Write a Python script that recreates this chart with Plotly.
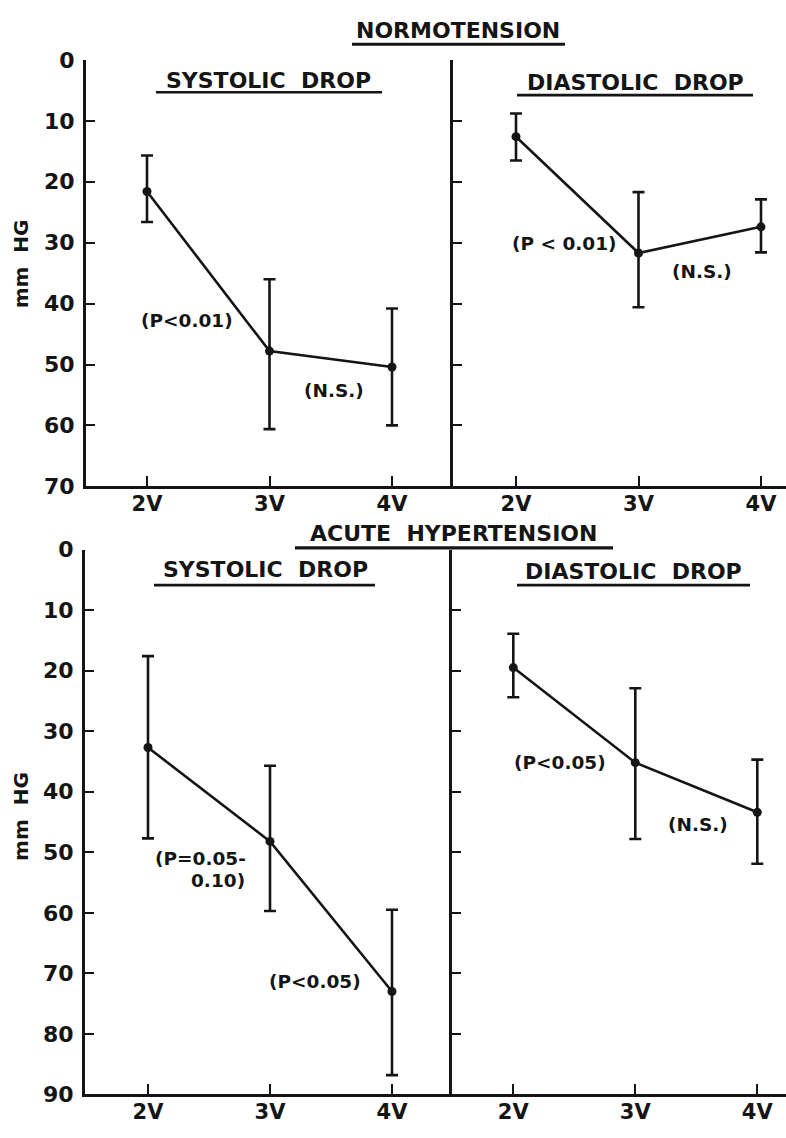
import plotly.graph_objects as go

W, H = 786, 1138

# ---------------- data ----------------
categories = ["2V", "3V", "4V"]
x_pos = [0, 1, 2]
yticks_top = [0, 10, 20, 30, 40, 50, 60, 70]
yticks_bottom = [0, 10, 20, 30, 40, 50, 60, 70, 80, 90]

# Normotension
norm_sys_mean = [21.6, 47.8, 50.4]
norm_sys_top = [15.7, 36.0, 40.8]
norm_sys_bot = [26.6, 60.6, 60.0]
norm_dia_mean = [12.6, 31.7, 27.4]
norm_dia_top = [8.8, 21.7, 22.9]
norm_dia_bot = [16.5, 40.6, 31.6]

# Acute hypertension
acute_sys_mean = [32.7, 48.2, 73.0]
acute_sys_top = [17.6, 35.7, 59.5]
acute_sys_bot = [47.7, 59.7, 86.8]
acute_dia_mean = [19.5, 35.2, 43.4]
acute_dia_top = [13.9, 22.9, 34.7]
acute_dia_bot = [24.4, 47.8, 51.9]

# ---------------- helpers ----------------
def fx(px):
    return px / W

def fy(py):
    return 1 - py / H

INK = "#151515"
FONT = "DejaVu Sans"

fig = go.Figure()

panels = [
    (norm_sys_mean, norm_sys_top, norm_sys_bot, ""),
    (norm_dia_mean, norm_dia_top, norm_dia_bot, "2"),
    (acute_sys_mean, acute_sys_top, acute_sys_bot, "3"),
    (acute_dia_mean, acute_dia_top, acute_dia_bot, "4"),
]

for mean, top, bot, sfx in panels:
    plus = [b - m for m, b in zip(mean, bot)]
    minus = [m - t for m, t in zip(mean, top)]
    fig.add_trace(go.Scatter(
        x=x_pos, y=mean, mode="lines+markers",
        line=dict(color=INK, width=2.6),
        marker=dict(color=INK, size=9),
        error_y=dict(type="data", array=plus, arrayminus=minus, symmetric=False,
                     color=INK, thickness=2.6, width=6),
        xaxis="x" + sfx, yaxis="y" + sfx, showlegend=False,
    ))

# axis pixel geometry: (x_left, x_right, x_of_2V, unit_px, y_top, y_bottom)
geom = {
    "": (86, 453, 147, 122.5, 49, 485),
    "2": (453, 786, 516, 122.5, 49, 485),
    "3": (85, 452, 148, 122.0, 549.6, 1106.8),
    "4": (452, 786, 513.3, 122.0, 549.6, 1106.8),
}

xtickfont = dict(family=FONT, size=21, color=INK, weight="bold")
ytickfont = dict(family=FONT, size=22, color=INK, weight="bold")

for sfx, (xl, xr, x2v, unit, yt, yb) in geom.items():
    is_top = sfx in ("", "2")
    is_left = sfx in ("", "3")
    yvals = yticks_top if is_top else yticks_bottom
    xa = dict(
        domain=[fx(xl), fx(xr)],
        range=[(xl - x2v) / unit, (xr - x2v) / unit],
        tickvals=x_pos, ticktext=categories,
        ticks="inside", ticklen=10, tickwidth=2, tickcolor=INK,
        showline=True, linecolor=INK, linewidth=3,
        showgrid=False, zeroline=False,
        tickfont=xtickfont, ticklabelstandoff=-4,
        anchor="y" + sfx,
    )
    ya = dict(
        domain=[fy(yb), fy(yt)],
        range=[yvals[-1], 0],
        tickvals=yvals,
        ticktext=[str(v) for v in yvals] if is_left else ["" for v in yvals],
        ticks="inside", ticklen=9, tickwidth=2, tickcolor=INK,
        showline=True, linecolor=INK, linewidth=3,
        showgrid=False, zeroline=False,
        tickfont=ytickfont, ticklabelstandoff=4,
        anchor="x" + sfx,
    )
    fig.update_layout(**{"xaxis" + sfx: xa, "yaxis" + sfx: ya})

annotations = []
shapes = []

def add_text(text, cx, cy, size, bold=True, angle=0, anchor="center"):
    annotations.append(dict(
        text=f"<b>{text}</b>" if bold else text,
        x=fx(cx), y=fy(cy), xref="paper", yref="paper",
        xanchor=anchor, yanchor="middle", showarrow=False,
        textangle=angle,
        font=dict(family=FONT, size=size, color=INK),
    ))

def add_underline(x0, x1, y, w=2.6):
    shapes.append(dict(type="line", xref="paper", yref="paper",
                       x0=fx(x0), x1=fx(x1), y0=fy(y), y1=fy(y),
                       line=dict(color=INK, width=w)))

# main titles
add_text("NORMOTENSION", 458, 19, 22)
add_underline(352, 565, 33, 3)
add_text("ACUTE  HYPERTENSION", 453, 533, 22)
add_underline(295, 613, 548, 3.2)

# panel titles
add_text("SYSTOLIC  DROP", 268, 70, 22)
add_underline(156, 382, 82)
add_text("DIASTOLIC  DROP", 635, 72, 22)
add_underline(517, 753, 85)
add_text("SYSTOLIC  DROP", 265, 570, 22)
add_underline(154, 375, 586)
add_text("DIASTOLIC  DROP", 633, 572, 22)
add_underline(517, 750, 586)

# y-axis titles
add_text("mm  HG", 21, 258, 20, angle=-90)
add_text("mm  HG", 21, 823, 20, angle=-90)

# statistical notes
add_text("(P&lt;0.01)", 187, 315, 18.5)
add_text("(N.S.)", 334, 387, 18.5)
add_text("(P &lt; 0.01)", 564, 237, 18.5)
add_text("(N.S.)", 702, 265, 18.5)
add_text("(P=0.05-", 248, 866, 18.5, anchor="right")
add_text("0.10)", 247, 888, 18.5, anchor="right")
add_text("(P&lt;0.05)", 315, 991, 18.5)
add_text("(P&lt;0.05)", 560, 767, 18.5)
add_text("(N.S.)", 698, 831, 18.5)

fig.update_layout(
    width=W, height=H,
    margin=dict(l=0, r=0, t=0, b=0),
    paper_bgcolor="white", plot_bgcolor="white",
    annotations=annotations, shapes=shapes,
    font=dict(family=FONT, color=INK),
)

fig.write_html("out.html")
